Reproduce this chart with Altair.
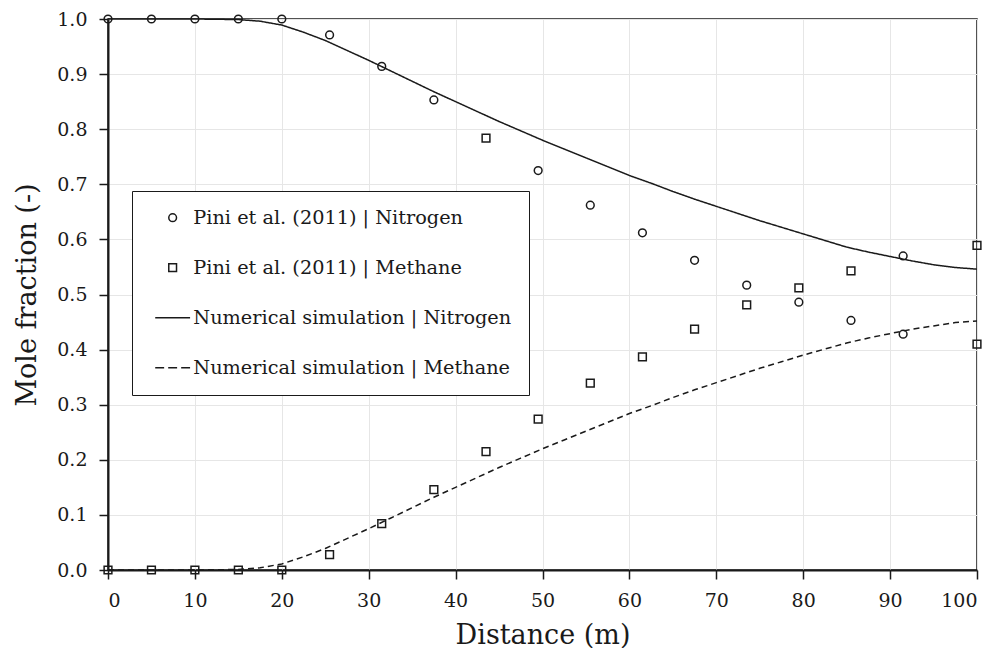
import altair as alt
import pandas as pd

# ---- experimental data (Pini et al. 2011) ----
exp_x = [0, 5, 10, 15, 20, 25.5, 31.5, 37.5, 43.5, 49.5, 55.5, 61.5, 67.5, 73.5, 79.5, 85.5, 91.5, 100]
exp_n2 = [1.0, 1.0, 1.0, 1.0, 1.0, 0.971, 0.914, 0.853, 0.784, 0.725, 0.662, 0.612, 0.562, 0.517, 0.486, 0.453, 0.428, 0.410]
exp_ch4 = [0.0, 0.0, 0.0, 0.0, 0.0, 0.028, 0.084, 0.146, 0.215, 0.274, 0.339, 0.387, 0.437, 0.481, 0.512, 0.543, 0.570, 0.589]

# marker glitches visible in the original figure
n2_drawn_as_square = [43.5, 100]
ch4_drawn_as_circle = [91.5]

# ---- numerical simulation ----
sim_x = [0, 5, 10, 15, 17.5, 20, 22.5, 25, 27.5, 30, 32.5, 35, 37.5, 40, 42.5, 45, 47.5, 50, 52.5, 55,
         57.5, 60, 62.5, 65, 67.5, 70, 72.5, 75, 77.5, 80, 82.5, 85, 87.5, 90, 92.5, 95, 97.5, 100]
sim_n2 = [1.0, 1.0, 1.0, 0.999, 0.996, 0.989, 0.976, 0.961, 0.943, 0.925, 0.906, 0.887, 0.868, 0.850, 0.832,
          0.814, 0.797, 0.780, 0.764, 0.748, 0.732, 0.716, 0.702, 0.687, 0.673, 0.660, 0.647, 0.634, 0.622,
          0.610, 0.598, 0.586, 0.577, 0.569, 0.561, 0.554, 0.549, 0.546]
sim_ch4 = [0.0, 0.0, 0.0, 0.001, 0.004, 0.011, 0.024, 0.039, 0.057, 0.075, 0.094, 0.113, 0.132, 0.150, 0.168,
           0.186, 0.203, 0.220, 0.236, 0.252, 0.268, 0.284, 0.298, 0.313, 0.327, 0.340, 0.353, 0.366, 0.378,
           0.390, 0.401, 0.412, 0.421, 0.429, 0.437, 0.443, 0.449, 0.452]

series_order = ["Pini et al. (2011) | Nitrogen", "Pini et al. (2011) | Methane",
                "Numerical simulation | Nitrogen", "Numerical simulation | Methane"]

x_ticks = [0, 10, 20, 30, 40, 50, 60, 70, 80, 90, 100]
y_ticks = [0.0, 0.1, 0.2, 0.3, 0.4, 0.5, 0.6, 0.7, 0.8, 0.9, 1.0]

rows = []
for x, n, m in zip(exp_x, exp_n2, exp_ch4):
    rows.append({"x": x, "y": n, "series": series_order[0],
                 "glyph": series_order[1] if x in n2_drawn_as_square else series_order[0]})
    rows.append({"x": x, "y": m, "series": series_order[1],
                 "glyph": series_order[0] if x in ch4_drawn_as_circle else series_order[1]})
exp_df = pd.DataFrame(rows)

srows = []
for x, n, m in zip(sim_x, sim_n2, sim_ch4):
    srows.append({"x": x, "y": n, "series": series_order[2]})
    srows.append({"x": x, "y": m, "series": series_order[3]})
sim_df = pd.DataFrame(srows)

INK = "#1a1a1a"
FONT = "DejaVu Serif"

# legend glyphs: solid and dashed line segments as symbol paths
SOLID_PATH = "M-4.5,0H4.5"
DASHED_PATH = "M-4.5,0H-2.2M-1.15,0H1.15M2.2,0H4.5"

legend = alt.Legend(
    title=None, orient="none", legendX=24, legendY=172,
    fillColor="white", strokeColor=INK, padding=17,
    labelFont=FONT, labelFontSize=19.3, labelColor=INK, labelLimit=400,
    labelOffset=11, symbolOffset=14, rowPadding=30, symbolSize=60,
    symbolStrokeColor=INK, symbolStrokeWidth=1.5, symbolFillColor="transparent",
)

x_enc = alt.X("x:Q", scale=alt.Scale(domain=[0, 100], nice=False),
              axis=alt.Axis(title="Distance (m)", values=x_ticks, labelPadding=12, titlePadding=12))
y_enc = alt.Y("y:Q", scale=alt.Scale(domain=[0, 1], nice=False),
              axis=alt.Axis(title="Mole fraction (-)", values=y_ticks, format=".1f",
                            labelPadding=12, titlePadding=15))

lines = alt.Chart(sim_df).mark_line(color=INK, strokeWidth=1.5).encode(
    x=x_enc, y=y_enc,
    strokeDash=alt.StrokeDash("series:N", scale=alt.Scale(
        domain=series_order[2:], range=[[1, 0], [6, 4]]), legend=None),
    detail="series:N",
)

points = alt.Chart(exp_df).mark_point(filled=False, color=INK, strokeWidth=1.5, opacity=1, size=60).encode(
    x=x_enc, y=y_enc,
    shape=alt.Shape("glyph:N", scale=alt.Scale(
        domain=series_order, range=["circle", "square", SOLID_PATH, DASHED_PATH]), legend=legend),
)

chart = alt.layer(lines, points).properties(
    width=869, height=551,
    padding={"left": 5, "top": 2, "right": 0, "bottom": 0},
    background="white",
).configure_axis(
    labelFont=FONT, labelFontSize=19, labelColor=INK,
    titleFont=FONT, titleFontSize=27, titleFontWeight="normal", titleColor=INK,
    gridColor="#e6e6e6", gridWidth=1,
    domainColor=INK, domainWidth=2,
    tickColor=INK, tickSize=9, tickWidth=1.5,
).configure_view(stroke=INK, strokeWidth=1.5)

chart.save("out.html", embed_options={"renderer": "svg", "actions": False})
